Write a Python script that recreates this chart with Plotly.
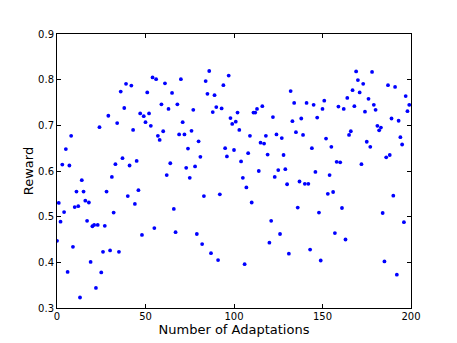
import plotly.graph_objects as go

# one reward per adaptation, index 0..199
adaptations = list(range(200))
reward = [
    0.447, 0.530, 0.489, 0.614, 0.510, 0.648, 0.379, 0.612, 0.677, 0.434,
    0.521, 0.555, 0.523, 0.323, 0.580, 0.555, 0.535, 0.491, 0.531, 0.401,
    0.479, 0.482, 0.344, 0.482, 0.696, 0.378, 0.423, 0.480, 0.555, 0.721,
    0.426, 0.587, 0.509, 0.615, 0.705, 0.423, 0.774, 0.628, 0.738, 0.791,
    0.545, 0.612, 0.787, 0.690, 0.528, 0.622, 0.558, 0.726, 0.460, 0.720,
    0.707, 0.772, 0.726, 0.699, 0.805, 0.475, 0.801, 0.677, 0.668, 0.746,
    0.687, 0.792, 0.591, 0.736, 0.617, 0.771, 0.517, 0.466, 0.746, 0.680,
    0.801, 0.707, 0.680, 0.607, 0.649, 0.585, 0.688, 0.734, 0.610, 0.462,
    0.665, 0.631, 0.440, 0.545, 0.797, 0.769, 0.819, 0.420, 0.729, 0.766,
    0.740, 0.405, 0.549, 0.737, 0.788, 0.650, 0.632, 0.809, 0.716, 0.703,
    0.646, 0.708, 0.728, 0.690, 0.621, 0.585, 0.396, 0.564, 0.639, 0.677,
    0.531, 0.728, 0.728, 0.736, 0.600, 0.662, 0.742, 0.660, 0.677, 0.636,
    0.443, 0.491, 0.718, 0.587, 0.680, 0.602, 0.462, 0.672, 0.635, 0.604,
    0.571, 0.419, 0.775, 0.709, 0.749, 0.685, 0.520, 0.577, 0.715, 0.679,
    0.572, 0.749, 0.572, 0.428, 0.650, 0.745, 0.598, 0.717, 0.509, 0.404,
    0.736, 0.754, 0.671, 0.550, 0.591, 0.653, 0.554, 0.464, 0.620, 0.741,
    0.619, 0.519, 0.736, 0.450, 0.760, 0.679, 0.687, 0.777, 0.742, 0.818,
    0.799, 0.772, 0.615, 0.791, 0.730, 0.664, 0.758, 0.653, 0.817, 0.745,
    0.734, 0.699, 0.689, 0.695, 0.508, 0.402, 0.630, 0.788, 0.635, 0.715,
    0.546, 0.784, 0.373, 0.710, 0.674, 0.658, 0.488, 0.764, 0.731, 0.745,
]

x_ticks = [0, 50, 100, 150, 200]
y_ticks = [0.3, 0.4, 0.5, 0.6, 0.7, 0.8, 0.9]

font = 'DejaVu Sans'

fig = go.Figure(data=[go.Scatter(
    x=adaptations,
    y=reward,
    mode='markers',
    marker=dict(color='#0000ff', size=3.8, line=dict(width=0)),
    cliponaxis=True
)])

axis_style = dict(
    showgrid=False,
    zeroline=False,
    showline=True,
    linecolor='black',
    linewidth=1,
    mirror='allticks',
    ticks='inside',
    ticklen=4,
    tickcolor='black',
    tickfont=dict(family=font, size=10, color='black'),
    title_font=dict(family=font, size=13, color='black'),
)

# the page puts the plot 8px in from the top-left corner, so the figure is
# a little smaller than the window and the margins account for that offset
fig.update_layout(
    width=449,
    height=335,
    margin=dict(l=49, r=46, t=26, b=35),
    paper_bgcolor='white',
    plot_bgcolor='white',
    showlegend=False,
    xaxis=dict(
        range=[0, 200],
        tickvals=x_ticks,
        ticktext=[str(v) for v in x_ticks],
        ticklabelstandoff=-1,
        title=dict(text='Number of Adaptations', standoff=0),
        **axis_style
    ),
    yaxis=dict(
        range=[0.3, 0.9],
        tickvals=y_ticks,
        ticktext=[f'{v:.1f}' for v in y_ticks],
        title=dict(text='Reward', standoff=1),
        **axis_style
    ),
)

fig.write_html("out.html")
